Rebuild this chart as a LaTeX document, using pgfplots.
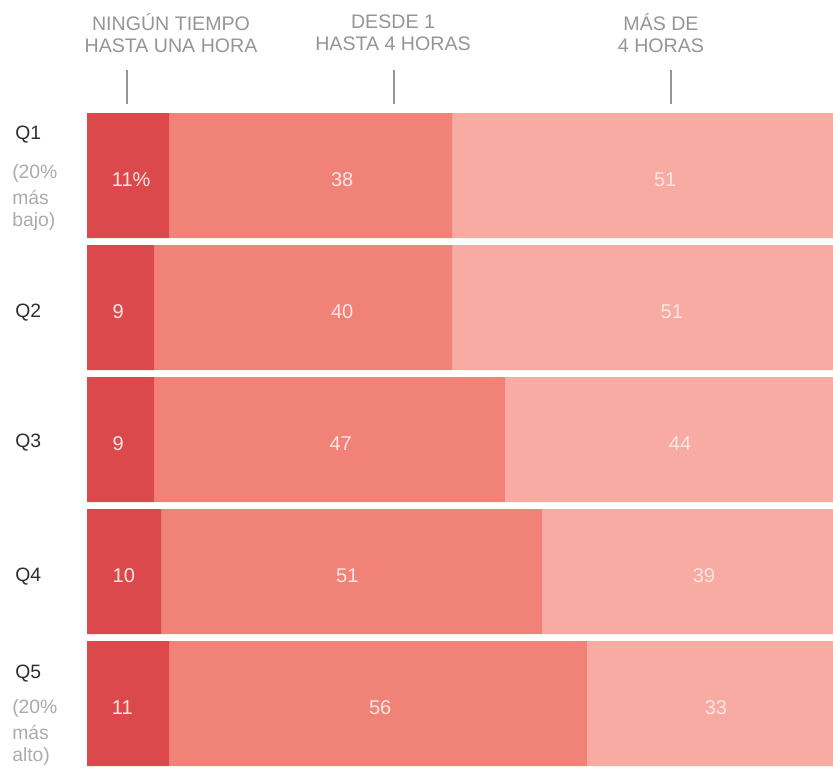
\documentclass[border=0pt]{standalone}
\usepackage{pgfplots}
\pgfplotsset{compat=1.18}
\usepackage{fontspec}
\setmainfont{Liberation Sans}
\definecolor{cA}{HTML}{DC494C}
\definecolor{cB}{HTML}{F18277}
\definecolor{cC}{HTML}{F7ABA3}
\definecolor{hdrgray}{HTML}{959595}
\definecolor{qlabgray}{HTML}{2E2E2E}
\definecolor{subgray}{HTML}{ABABAB}
\definecolor{numcol}{HTML}{FDE6E2}
\pgfplotsset{geom/.style={
  at={(65.25pt,-82.125pt)}, anchor=north west,
  scale only axis, width=559.5pt, height=495pt,
  xmin=0, xmax=100, ymin=0.5, ymax=5.5, y dir=reverse,
  axis lines=none, enlargelimits=false, clip=false}}
\begin{document}
\begin{tikzpicture}
\begin{scope}[x=0.75pt,y=-0.75pt]
% header
\begin{scope}[font=\fontsize{14.7pt}{16.5pt}\selectfont, text=hdrgray]
\node[align=center] at (171,33) {NINGÚN TIEMPO\\HASTA UNA HORA};
\node[align=center] at (393,33) {DESDE 1\\HASTA 4 HORAS};
\node[align=center] at (661,33) {MÁS DE\\4 HORAS};
\end{scope}
\draw[hdrgray, line width=0.9pt] (127,70) -- (127,104);
\draw[hdrgray, line width=0.9pt] (394,70) -- (394,104);
\draw[hdrgray, line width=0.9pt] (671,70) -- (671,104);
% row labels
\begin{scope}[font=\fontsize{14.5pt}{17pt}\selectfont]
\node[anchor=west, text=qlabgray, inner sep=0] at (15,135) {Q1};
\node[anchor=west, text=qlabgray, inner sep=0] at (15,313) {Q2};
\node[anchor=west, text=qlabgray, inner sep=0] at (15,443) {Q3};
\node[anchor=west, text=qlabgray, inner sep=0] at (15,577) {Q4};
\node[anchor=west, text=qlabgray, inner sep=0] at (15,674) {Q5};
\end{scope}
\begin{scope}[font=\fontsize{14.5pt}{16pt}\selectfont, text=subgray]
\node[anchor=west, inner sep=0] at (12,173) {(20\%};
\node[anchor=west, inner sep=0] at (12,197) {más};
\node[anchor=west, inner sep=0] at (12,221) {bajo)};
\node[anchor=west, inner sep=0] at (12,708) {(20\%};
\node[anchor=west, inner sep=0] at (12,732) {más};
\node[anchor=west, inner sep=0] at (12,756) {alto)};
\end{scope}
\end{scope}
\begin{axis}[geom, xbar stacked, bar width=93.75pt]
\addplot[fill=cA, draw=none] coordinates {(11,1) (9,2) (9,3) (10,4) (11,5)};
\addplot[fill=cB, draw=none] coordinates {(38,1) (40,2) (47,3) (51,4) (56,5)};
\addplot[fill=cC, draw=none] coordinates {(51,1) (51,2) (44,3) (39,4) (33,5)};
\end{axis}
\begin{axis}[geom]
\addplot[draw=none, mark=none, nodes near coords, point meta=explicit symbolic,
  every node near coord/.style={anchor=west, inner sep=0pt, text=numcol,
  font=\fontsize{15pt}{16pt}\selectfont}]
  coordinates {(3.3,1.03) [11\%] (3.4,2.03) [9] (3.4,3.03) [9] (3.4,4.03) [10] (3.3,5.03) [11]};
\addplot[draw=none, mark=none, nodes near coords, point meta=explicit symbolic,
  every node near coord/.style={anchor=center, inner sep=0pt, text=numcol,
  font=\fontsize{15pt}{16pt}\selectfont}]
  coordinates {(34.2,1.03) [38] (34.2,2.03) [40] (34.0,3.03) [47] (34.9,4.03) [51] (39.3,5.03) [56]
  (77.5,1.03) [51] (78.4,2.03) [51] (79.5,3.03) [44] (82.7,4.03) [39] (84.3,5.03) [33]};
\end{axis}
\pgfresetboundingbox
\path[use as bounding box] (0pt,0pt) rectangle (624.75pt,-576pt);
\end{tikzpicture}
\end{document}
